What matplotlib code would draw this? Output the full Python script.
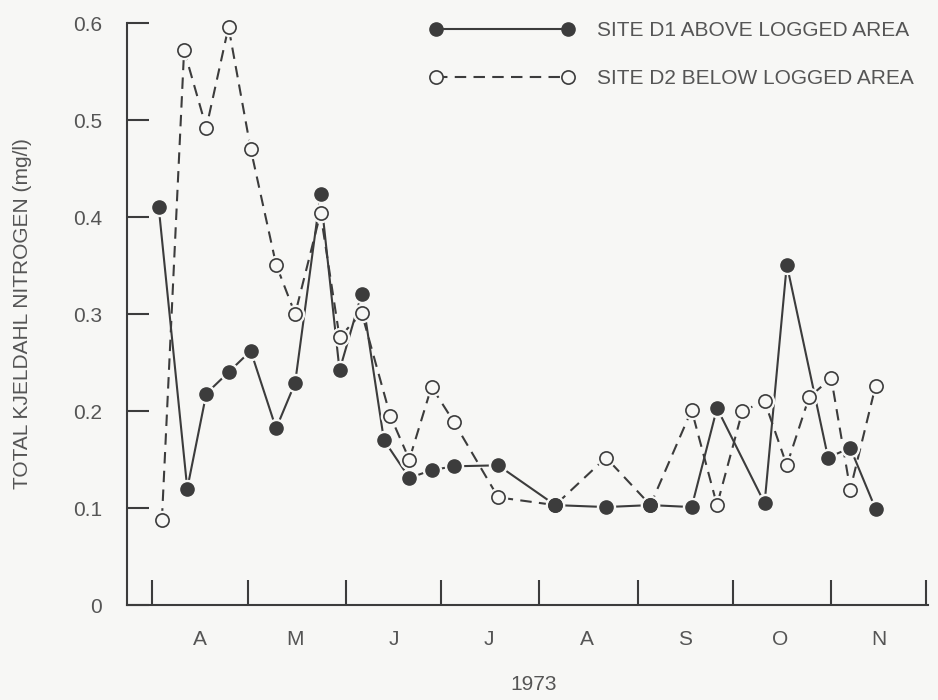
import matplotlib
matplotlib.use('Agg')
import matplotlib.pyplot as plt
import pandas as pd
from matplotlib.lines import Line2D
from matplotlib.ticker import FixedLocator, FixedFormatter, NullFormatter

plt.rcParams['font.family'] = ['Liberation Sans', 'DejaVu Sans']

# sampling dates and total Kjeldahl nitrogen (mg/l)
d1_dates = ['1973-04-03', '1973-04-12', '1973-04-18', '1973-04-25', '1973-05-02',
            '1973-05-10', '1973-05-16', '1973-05-24', '1973-05-30', '1973-06-06',
            '1973-06-13', '1973-06-21', '1973-06-28', '1973-07-05', '1973-07-19',
            '1973-08-06', '1973-08-22', '1973-09-05', '1973-09-18', '1973-09-26',
            '1973-10-11', '1973-10-18', '1973-10-31', '1973-11-07', '1973-11-15']
d1_tkn = [0.41, 0.12, 0.218, 0.24, 0.262,
          0.182, 0.229, 0.424, 0.242, 0.321,
          0.17, 0.131, 0.139, 0.143, 0.144,
          0.103, 0.101, 0.103, 0.101, 0.203,
          0.105, 0.351, 0.152, 0.162, 0.099]

d2_dates = ['1973-04-04', '1973-04-11', '1973-04-18', '1973-04-25', '1973-05-02',
            '1973-05-10', '1973-05-16', '1973-05-24', '1973-05-30', '1973-06-06',
            '1973-06-15', '1973-06-21', '1973-06-28', '1973-07-05', '1973-07-19',
            '1973-08-06', '1973-08-22', '1973-09-05', '1973-09-18', '1973-09-26',
            '1973-10-04', '1973-10-11', '1973-10-18', '1973-10-25', '1973-11-01',
            '1973-11-07', '1973-11-15']
d2_tkn = [0.088, 0.572, 0.492, 0.596, 0.470,
          0.351, 0.300, 0.404, 0.276, 0.301,
          0.195, 0.150, 0.225, 0.189, 0.111,
          0.103, 0.152, 0.103, 0.201, 0.103,
          0.200, 0.210, 0.144, 0.214, 0.234,
          0.119, 0.226]

month_labels = ['A', 'M', 'J', 'J', 'A', 'S', 'O', 'N']
y_ticks = [0, 0.1, 0.2, 0.3, 0.4, 0.5, 0.6]
y_labels = ['0', '0.1', '0.2', '0.3', '0.4', '0.5', '0.6']
legend_labels = ['SITE D1 ABOVE LOGGED AREA', 'SITE D2 BELOW LOGGED AREA']

bg = '#f7f7f5'
ink = '#3c3c3c'
txt = '#555555'
fs = 15

x1 = pd.to_datetime(d1_dates)
x2 = pd.to_datetime(d2_dates)

fig = plt.figure(figsize=(9.38, 7), dpi=100, facecolor=bg)
ax = fig.add_axes([0.1354, 0.1357, 0.8539, 0.8314], facecolor=bg)

# lines first, then a background halo so lines stop short of the circles
ax.plot(x1, d1_tkn, color=ink, lw=1.5, zorder=2)
ax.plot(x2, d2_tkn, color=ink, lw=1.5, dashes=(5.5, 3.5), zorder=2)
ax.plot(x2, d2_tkn, ls='none', marker='o', ms=13, mfc=bg, mec=bg, zorder=3, clip_on=False)
ax.plot(x1, d1_tkn, ls='none', marker='o', ms=13, mfc=bg, mec=bg, zorder=3, clip_on=False)
ax.plot(x2, d2_tkn, ls='none', marker='o', ms=9.5, mfc=bg, mec=ink, mew=1.2, zorder=4, clip_on=False)
ax.plot(x1, d1_tkn, ls='none', marker='o', ms=9.5, mfc=ink, mec=ink, zorder=5, clip_on=False)

ax.set_ylim(0, 0.6)
ax.set_xlim(pd.Timestamp('1973-03-24'), pd.Timestamp('1973-12-01 12:00'))

month_starts = pd.date_range('1973-04-01', '1973-12-01', freq='MS')
month_mids = month_starts[:-1] + pd.Timedelta(days=15)
ax.xaxis.set_major_locator(FixedLocator(matplotlib.dates.date2num(month_starts)))
ax.xaxis.set_major_formatter(NullFormatter())
ax.xaxis.set_minor_locator(FixedLocator(matplotlib.dates.date2num(month_mids)))
ax.xaxis.set_minor_formatter(FixedFormatter(month_labels))
ax.set_yticks(y_ticks)
ax.set_yticklabels(y_labels)

ax.tick_params(axis='x', which='major', direction='in', length=18, width=1.5, color=ink)
ax.tick_params(axis='x', which='minor', length=0, pad=18, labelsize=fs, labelcolor=txt)
ax.tick_params(axis='y', direction='in', length=16, width=1.5, color=ink,
               pad=18, labelsize=fs, labelcolor=txt)

for side in ['top', 'right']:
    ax.spines[side].set_visible(False)
for side in ['left', 'bottom']:
    ax.spines[side].set_linewidth(1.5)
    ax.spines[side].set_color(ink)

ax.set_ylabel('TOTAL KJELDAHL NITROGEN (mg/l)', fontsize=fs, color=txt)
ax.yaxis.set_label_coords(-0.119, 0.5)
ax.set_xlabel('1973', fontsize=fs, color=txt)
ax.xaxis.set_label_coords(0.508, -0.12)

h1 = Line2D([], [], color=ink, lw=1.5, marker='o', ms=9.5, mfc=ink, mec=ink)
h2 = Line2D([], [], color=ink, lw=1.5, dashes=(5.5, 3.5), marker='o', ms=9.5,
            mfc=bg, mec=ink, mew=1.2)
fig.legend([h1, h2], legend_labels, loc='upper left',
           bbox_to_anchor=(430 / 938, 1 - 21 / 700), numpoints=2,
           handlelength=6.9, handletextpad=1.13, labelspacing=1.4,
           frameon=False, borderpad=0, borderaxespad=0, fontsize=fs, labelcolor=txt)

fig.savefig('out.png', dpi=100, facecolor=bg)
